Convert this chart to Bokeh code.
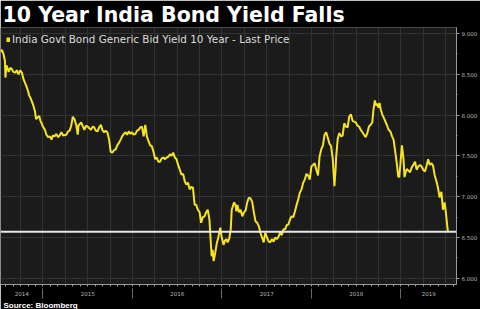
from bokeh.plotting import figure
from bokeh.models import (Range1d, LinearAxis, FixedTicker, SingleIntervalTicker, Grid, Span,
                          Title, Legend, LegendItem, PrintfTickFormatter)
from bokeh.embed import file_html
from bokeh.resources import INLINE

# ---------------- data ----------------
t_year = [
    2014.526, 2014.542, 2014.562, 2014.576, 2014.581, 2014.592, 2014.609, 2014.617, 2014.636, 2014.655,
    2014.669, 2014.691, 2014.708, 2014.728, 2014.746, 2014.765, 2014.783, 2014.802, 2014.820, 2014.835,
    2014.846, 2014.857, 2014.868, 2014.875, 2014.890, 2014.912, 2014.923, 2014.939, 2014.959, 2014.972,
    2014.986, 2015.000, 2015.022, 2015.039, 2015.058, 2015.077, 2015.096, 2015.110, 2015.132, 2015.149,
    2015.169, 2015.187, 2015.206, 2015.226, 2015.261, 2015.281, 2015.298, 2015.316, 2015.334, 2015.353,
    2015.372, 2015.389, 2015.397, 2015.427, 2015.447, 2015.463, 2015.480, 2015.499, 2015.518, 2015.537,
    2015.557, 2015.573, 2015.590, 2015.610, 2015.628, 2015.647, 2015.667, 2015.684, 2015.700, 2015.720,
    2015.739, 2015.757, 2015.775, 2015.794, 2015.813, 2015.830, 2015.849, 2015.868, 2015.885, 2015.904,
    2015.923, 2015.940, 2015.959, 2015.978, 2015.996, 2016.014, 2016.033, 2016.051, 2016.069, 2016.088,
    2016.106, 2016.125, 2016.143, 2016.161, 2016.180, 2016.198, 2016.216, 2016.235, 2016.254, 2016.271,
    2016.290, 2016.309, 2016.326, 2016.345, 2016.364, 2016.381, 2016.400, 2016.419, 2016.437, 2016.455,
    2016.474, 2016.492, 2016.510, 2016.529, 2016.547, 2016.566, 2016.584, 2016.602, 2016.621, 2016.639,
    2016.657, 2016.676, 2016.695, 2016.712, 2016.731, 2016.750, 2016.767, 2016.786, 2016.805, 2016.823,
    2016.841, 2016.860, 2016.871, 2016.885, 2016.896, 2016.907, 2016.926, 2016.944, 2016.959, 2016.981,
    2016.996, 2017.018, 2017.032, 2017.051, 2017.062, 2017.080, 2017.098, 2017.109, 2017.136, 2017.153,
    2017.161, 2017.172, 2017.191, 2017.208, 2017.227, 2017.246, 2017.264, 2017.282, 2017.301, 2017.319,
    2017.337, 2017.356, 2017.374, 2017.393, 2017.411, 2017.429, 2017.448, 2017.466, 2017.484, 2017.503,
    2017.522, 2017.539, 2017.558, 2017.577, 2017.594, 2017.613, 2017.632, 2017.649, 2017.668, 2017.687,
    2017.705, 2017.723, 2017.742, 2017.760, 2017.778, 2017.797, 2017.815, 2017.834, 2017.852, 2017.870,
    2017.889, 2017.907, 2017.925, 2017.944, 2017.963, 2017.980, 2017.999, 2018.018, 2018.035, 2018.054,
    2018.073, 2018.090, 2018.109, 2018.128, 2018.146, 2018.164, 2018.183, 2018.201, 2018.219, 2018.238,
    2018.256, 2018.269, 2018.275, 2018.293, 2018.311, 2018.330, 2018.348, 2018.366, 2018.385, 2018.404,
    2018.421, 2018.440, 2018.459, 2018.476, 2018.495, 2018.514, 2018.531, 2018.550, 2018.569, 2018.587,
    2018.605, 2018.624, 2018.642, 2018.660, 2018.679, 2018.693, 2018.708, 2018.721, 2018.734, 2018.749,
    2018.760, 2018.774, 2018.790, 2018.807, 2018.826, 2018.845, 2018.862, 2018.881, 2018.900, 2018.917,
    2018.936, 2018.955, 2018.969, 2018.980, 2018.991, 2019.010, 2019.028, 2019.039, 2019.052, 2019.065,
    2019.083, 2019.101, 2019.120, 2019.138, 2019.157, 2019.175, 2019.193, 2019.212, 2019.230, 2019.248,
    2019.267, 2019.286, 2019.303, 2019.322, 2019.341, 2019.358, 2019.377, 2019.396, 2019.413, 2019.432,
    2019.451, 2019.469, 2019.487, 2019.498, 2019.513, 2019.524,
]
yield_pct = [
    8.78, 8.80, 8.74, 8.66, 8.46, 8.61, 8.56, 8.53, 8.58, 8.56,
    8.53, 8.52, 8.55, 8.50, 8.55, 8.52, 8.44, 8.39, 8.34, 8.29,
    8.24, 8.22, 8.19, 8.17, 8.13, 8.04, 7.95, 7.97, 7.99, 7.93,
    7.90, 7.86, 7.82, 7.76, 7.73, 7.74, 7.70, 7.75, 7.74, 7.77,
    7.73, 7.75, 7.79, 7.75, 7.76, 7.80, 7.81, 7.87, 7.98, 7.95,
    7.88, 7.76, 7.87, 7.91, 7.86, 7.82, 7.87, 7.86, 7.84, 7.82,
    7.86, 7.85, 7.81, 7.80, 7.85, 7.88, 7.81, 7.79, 7.81, 7.79,
    7.70, 7.55, 7.54, 7.57, 7.58, 7.63, 7.66, 7.70, 7.74, 7.77,
    7.79, 7.76, 7.80, 7.77, 7.79, 7.76, 7.77, 7.81, 7.82, 7.85,
    7.86, 7.74, 7.88, 7.74, 7.68, 7.63, 7.62, 7.55, 7.46, 7.48,
    7.43, 7.43, 7.47, 7.48, 7.46, 7.48, 7.49, 7.52, 7.50, 7.54,
    7.48, 7.46, 7.39, 7.33, 7.27, 7.28, 7.19, 7.15, 7.17, 7.09,
    7.12, 7.11, 6.90, 6.90, 6.84, 6.81, 6.68, 6.75, 6.76, 6.81,
    6.84, 6.72, 6.51, 6.27, 6.35, 6.21, 6.32, 6.44, 6.50, 6.62,
    6.51, 6.41, 6.46, 6.48, 6.44, 6.48, 6.60, 6.84, 6.93, 6.89,
    6.82, 6.90, 6.81, 6.84, 6.76, 6.81, 6.83, 6.93, 6.99, 6.98,
    6.94, 6.81, 6.70, 6.68, 6.64, 6.56, 6.50, 6.44, 6.56, 6.50,
    6.45, 6.44, 6.48, 6.45, 6.50, 6.48, 6.51, 6.56, 6.53, 6.60,
    6.60, 6.65, 6.66, 6.72, 6.76, 6.75, 6.82, 6.90, 6.97, 7.05,
    7.09, 7.17, 7.21, 7.28, 7.26, 7.21, 7.37, 7.39, 7.41, 7.33,
    7.26, 7.49, 7.58, 7.63, 7.76, 7.79, 7.72, 7.65, 7.62, 7.46,
    7.13, 7.33, 7.48, 7.71, 7.78, 7.74, 7.75, 7.90, 7.86, 7.85,
    7.98, 8.01, 7.93, 7.92, 7.91, 7.87, 7.86, 7.82, 7.79, 7.76,
    7.73, 7.78, 7.86, 7.88, 7.91, 8.07, 8.18, 8.12, 8.14, 8.09,
    8.15, 8.07, 8.01, 7.97, 7.92, 7.87, 7.82, 7.80, 7.74, 7.70,
    7.55, 7.39, 7.25, 7.24, 7.37, 7.63, 7.46, 7.24, 7.30, 7.34,
    7.32, 7.30, 7.36, 7.39, 7.43, 7.33, 7.37, 7.39, 7.37, 7.33,
    7.31, 7.38, 7.46, 7.39, 7.41, 7.38, 7.26, 7.19, 7.11, 6.99,
    7.06, 6.84, 6.93, 6.84, 6.68, 6.57,
]
year_labels = ["2014", "2015", "2016", "2017", "2018", "2019"]
year_starts = [2015, 2016, 2017, 2018, 2019]
x_bounds = [2014.526, 2019.62]
y_bounds = [5.924, 9.074]

series_name = "India Govt Bond Generic Bid Yield 10 Year - Last Price"
title_text = "10 Year India Bond Yield Falls"
source_text = "Source: Bloomberg"

# ---------------- styling ----------------
YELLOW = "#f6e51e"
PANEL = "#1b1b1b"
GRID = "#323232"
AXIS = "#9a9a9a"
TICKTXT = "#b8b8b8"

p = figure(width=480, height=309, output_backend="svg", toolbar_location=None,
           x_range=Range1d(*x_bounds), y_range=Range1d(*y_bounds),
           x_axis_type=None, y_axis_type=None,
           background_fill_color=PANEL, border_fill_color="black",
           min_border_left=0, min_border_right=0, min_border_top=0, min_border_bottom=0,
           title=title_text)
p.outline_line_color = None

p.title.text_font = "DejaVu Sans"
p.title.text_font_size = "20.5px"
p.title.text_font_style = "bold"
p.title.text_color = "white"
p.title.offset = 2
p.title.standoff = 1

# grids
quarters = [q / 4 for q in range(4 * 2014, 4 * 2020) if x_bounds[0] < q / 4 < x_bounds[1]]
p.add_layout(Grid(dimension=0, ticker=FixedTicker(ticks=quarters), grid_line_color=GRID))
y_ticker = SingleIntervalTicker(interval=0.5, num_minor_ticks=2)
p.add_layout(Grid(dimension=1, ticker=y_ticker, grid_line_color=GRID))

# last-price line
p.add_layout(Span(location=yield_pct[-1], dimension="width", line_color="#e8e8e8", line_width=2))

# series
p.line(t_year, yield_pct, line_color=YELLOW, line_width=2)

# legend swatch (hidden thick copy of the series, used only for the legend glyph)
swatch = p.line(t_year, yield_pct, line_color=YELLOW, line_width=5, line_cap="butt", visible=False)
legend = Legend(items=[LegendItem(label=series_name, renderers=[swatch])],
                location="top_left", background_fill_alpha=0, border_line_color=None,
                label_text_font="DejaVu Sans", label_text_font_size="10.4px",
                label_text_color="#dcdcdc", glyph_width=4, glyph_height=5,
                label_standoff=2, padding=0, margin=6, spacing=0, label_height=12)
p.add_layout(legend)

# x axis: year labels in middle of each visible year, monthly minor ticks
mids = []
for lbl in year_labels:
    y0 = max(int(lbl), x_bounds[0])
    y1 = min(int(lbl) + 1, x_bounds[1])
    mids.append((y0 + y1) / 2)
months = [m / 12 for m in range(12 * 2014, 12 * 2020) if x_bounds[0] < m / 12 < x_bounds[1]]
ax = LinearAxis(ticker=FixedTicker(ticks=mids, minor_ticks=months),
                major_label_overrides={m: l for m, l in zip(mids, year_labels)},
                axis_line_color=AXIS, major_tick_line_color=None,
                minor_tick_line_color=AXIS, minor_tick_in=0, minor_tick_out=2,
                major_label_text_font="DejaVu Sans", major_label_text_font_size="5.5px",
                major_label_text_color=TICKTXT, major_label_standoff=0)
p.add_layout(ax, "below")

# x axis separators at year boundaries
ax2 = LinearAxis(ticker=FixedTicker(ticks=year_starts, minor_ticks=[]),
                 major_label_overrides={y: "" for y in year_starts},
                 axis_line_color=None, major_tick_line_color="#6a6a6a",
                 major_tick_in=10, major_tick_out=0, minor_tick_line_color=None,
                 major_label_text_font_size="0px", major_label_standoff=0)
p.add_layout(ax2, "below")

# right y axis
ay = LinearAxis(ticker=y_ticker, formatter=PrintfTickFormatter(format="%.3f"),
                axis_line_color=AXIS, major_tick_line_color=AXIS, minor_tick_line_color=AXIS,
                major_tick_in=0, major_tick_out=3, minor_tick_in=0, minor_tick_out=1,
                major_label_text_font="DejaVu Sans", major_label_text_font_size="5.5px",
                major_label_text_color=TICKTXT, major_label_standoff=2)
p.add_layout(ay, "right")

# source note
src = Title(text=source_text, align="left", text_font="Liberation Sans", text_font_size="8px",
            text_font_style="bold", text_color="white", offset=3, standoff=0)
p.add_layout(src, "below")

open("out.html", "w").write(file_html(p, INLINE))
